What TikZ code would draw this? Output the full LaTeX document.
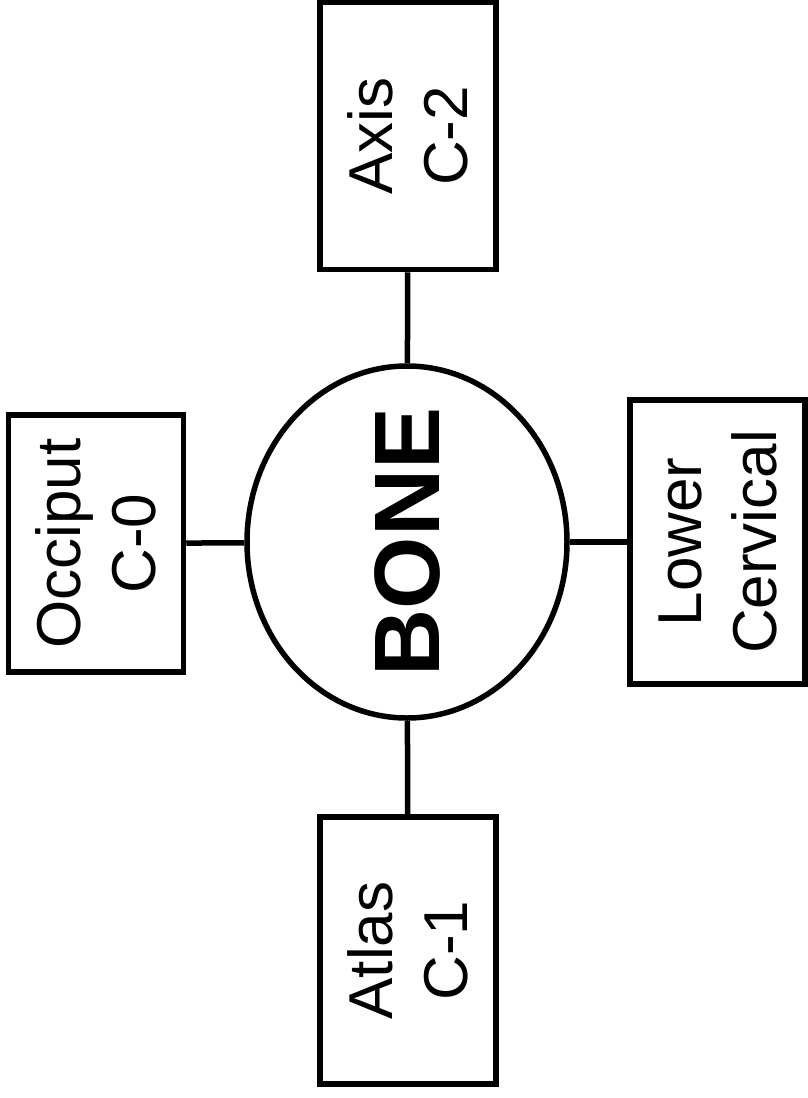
\documentclass[tikz,border=0pt]{standalone}
\usepackage{fontspec}
\setmainfont{Liberation Sans}
\usetikzlibrary{shapes.geometric}

\begin{document}
\begin{tikzpicture}[x=1pt, y=-1pt, line width=5.5pt,
    part/.style={draw, rotate=90, align=center, inner sep=0pt,
      font=\fontsize{62}{75}\selectfont},
    bone/.style={draw, ellipse, rotate=90, inner ysep=0pt, inner xsep=-12pt,
      font=\fontsize{93}{100}\selectfont\bfseries}]

  \useasboundingbox (0,0) rectangle (808,1098);

  % Central bone
  \node[bone, minimum width=352pt, minimum height=320pt] (bone) at (407,542) {BONE};

  % Neighbouring parts
  \node[part, minimum width=267pt, minimum height=176pt] (axis) at (408,136) {Axis\\C-2};
  \node[part, minimum width=257pt, minimum height=175pt] (occiput) at (96,543.5) {Occiput\\C-0};
  \node[part, minimum width=284pt, minimum height=175pt] (lower) at (717.5,542) {Lower\\Cervical};
  \node[part, minimum width=267pt, minimum height=176pt] (atlas) at (408,950.5) {Atlas\\C-1};

  % Links
  \draw (bone) -- (axis);
  \draw (bone) -- (occiput);
  \draw (bone) -- (lower);
  \draw (bone) -- (atlas);

\end{tikzpicture}
\end{document}
